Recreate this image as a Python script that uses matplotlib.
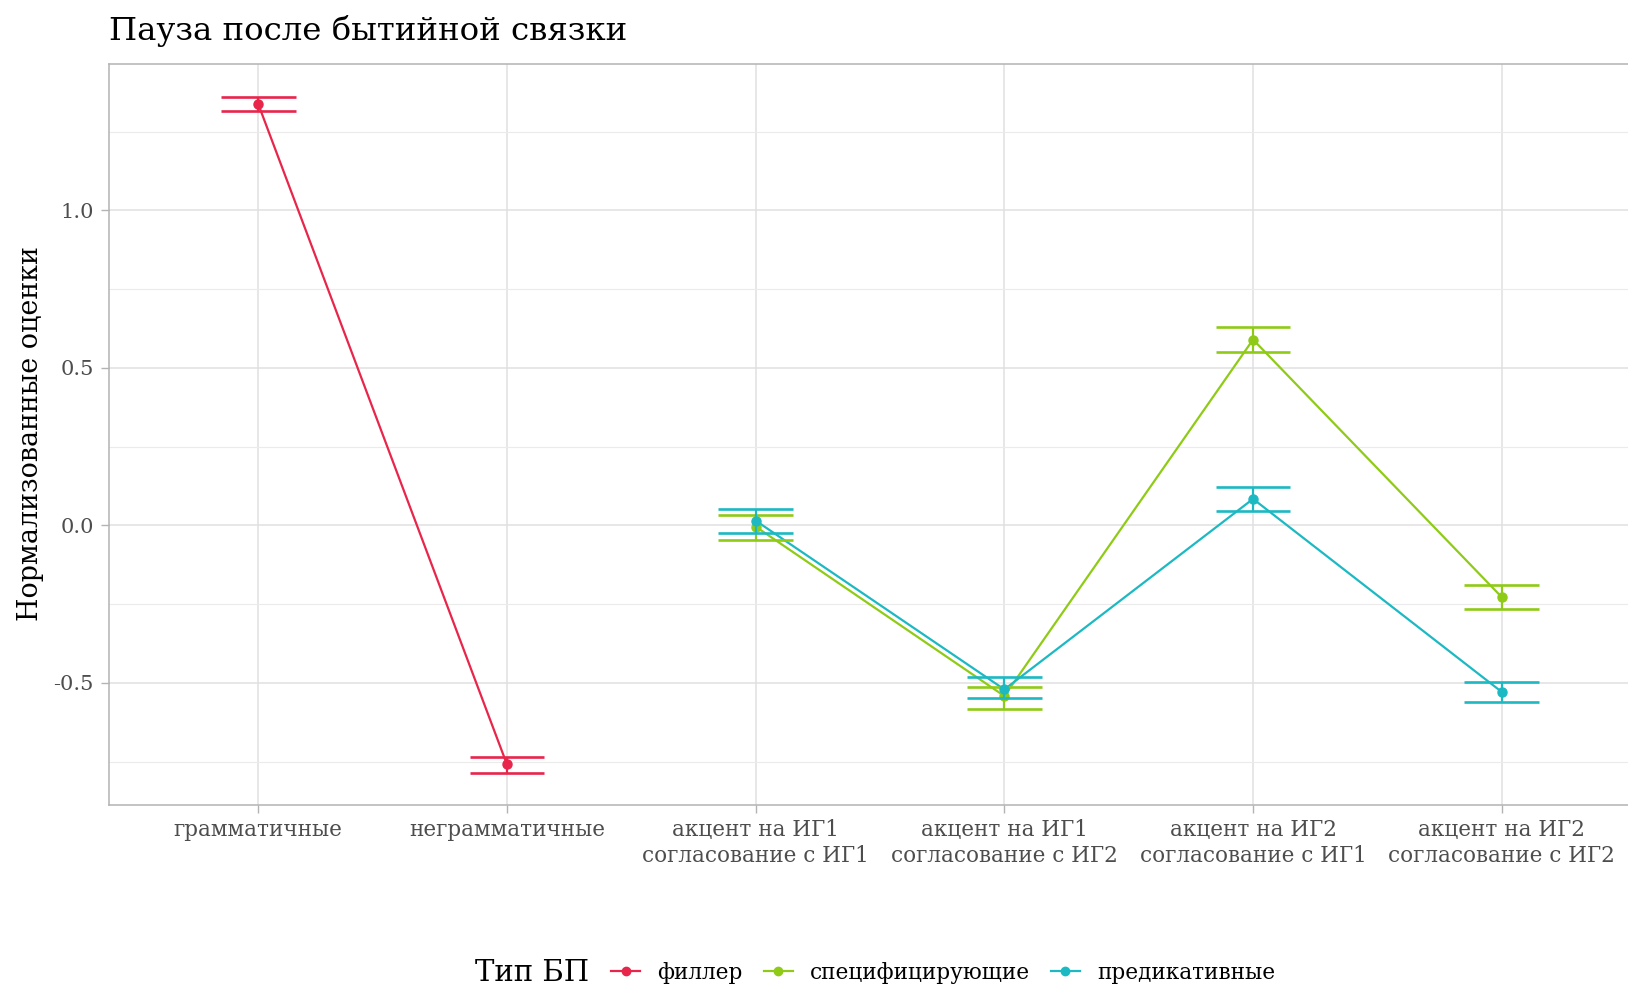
import numpy as np
import matplotlib
matplotlib.use("Agg")
import matplotlib.pyplot as plt
from matplotlib.lines import Line2D

# categories on the x axis
categories = [
    "грамматичные",
    "неграмматичные",
    "акцент на ИГ1\nсогласование с ИГ1",
    "акцент на ИГ1\nсогласование с ИГ2",
    "акцент на ИГ2\nсогласование с ИГ1",
    "акцент на ИГ2\nсогласование с ИГ2",
]

# series: x index, mean, lower, upper
filler_x = [0, 1]
filler_mean = [1.338, -0.759]
filler_lo = [1.316, -0.785]
filler_hi = [1.359, -0.736]

spec_x = [2, 3, 4, 5]
spec_mean = [-0.004, -0.542, 0.590, -0.228]
spec_lo = [-0.046, -0.583, 0.552, -0.267]
spec_hi = [0.033, -0.512, 0.629, -0.190]

pred_x = [2, 3, 4, 5]
pred_mean = [0.015, -0.521, 0.084, -0.529]
pred_lo = [-0.023, -0.549, 0.046, -0.560]
pred_hi = [0.051, -0.481, 0.121, -0.496]

series_names = ["филлер", "специфицирующие", "предикативные"]
colors = ["#E8264B", "#8FCB16", "#1CB9C3"]

plt.rcParams['font.family'] = ['DejaVu Serif']

W, H = 1628, 988
fig = plt.figure(figsize=(W / 100, H / 100), dpi=100)

left, right, top, bottom = 109, 1651, 64, 805
ax = fig.add_axes([left / W, 1 - bottom / H, (right - left) / W, (bottom - top) / H])

ax.set_xlim(-0.6, len(categories) - 1 + 0.6)
ax.set_ylim(-0.888, 1.465)

# grid
ax.set_yticks([-0.5, 0.0, 0.5, 1.0])
ax.set_yticklabels(["-0.5", "0.0", "0.5", "1.0"])
ax.set_yticks([-0.75, -0.25, 0.25, 0.75, 1.25], minor=True)
ax.set_xticks(range(len(categories)))
ax.set_xticklabels(categories, linespacing=1.25)
ax.grid(True, which='major', color='#E0E0E0', lw=1.1)
ax.grid(True, which='minor', axis='y', color='#EBEBEB', lw=0.8)
ax.set_axisbelow(True)

for sp in ax.spines.values():
    sp.set_color('#B3B3B3')
    sp.set_linewidth(1.1)

ax.tick_params(axis='both', which='major', length=6, width=1.0, color='#B3B3B3',
               labelcolor='#4D4D4D', pad=5)
ax.tick_params(axis='x', labelsize=15.5, pad=4)
ax.tick_params(axis='y', labelsize=15)
ax.tick_params(axis='y', which='minor', length=0)

cap = 0.15
all_series = [
    (filler_x, filler_mean, filler_lo, filler_hi),
    (spec_x, spec_mean, spec_lo, spec_hi),
    (pred_x, pred_mean, pred_lo, pred_hi),
]
for (xs, m, lo, hi), c in zip(all_series, colors):
    xs = np.array(xs)
    ax.plot(xs, m, color=c, lw=1.6, zorder=3)
    ax.plot(xs, m, 'o', color=c, ms=6.5, zorder=4)
    ax.vlines(xs, lo, hi, color=c, lw=1.6, zorder=4)
    ax.hlines(lo, xs - cap, xs + cap, color=c, lw=1.9, zorder=4)
    ax.hlines(hi, xs - cap, xs + cap, color=c, lw=1.9, zorder=4)

fig.text(109 / W, 1 - 40 / H, "Пауза после бытийной связки", fontsize=23.3,
         ha='left', va='baseline', color='black')
fig.text(31 / W, 1 - 434 / H, "Нормализованные оценки", fontsize=19.4,
         rotation=90, ha='center', va='center', color='black')

# legend at the bottom
handles = [Line2D([0], [0], color=c, lw=1.6, marker='o', ms=6) for c in colors]
fig.text(475 / W, 1 - 973 / H, "Тип БП", fontsize=21, ha='left', va='center')
fig.legend(handles, series_names, loc='center left', bbox_to_anchor=(611 / W, 1 - 973 / H),
           ncol=3, frameon=False, fontsize=15.6, handlelength=1.35, handletextpad=0.8,
           columnspacing=0.95, borderpad=0, borderaxespad=0)

fig.savefig("out.png", dpi=100)
